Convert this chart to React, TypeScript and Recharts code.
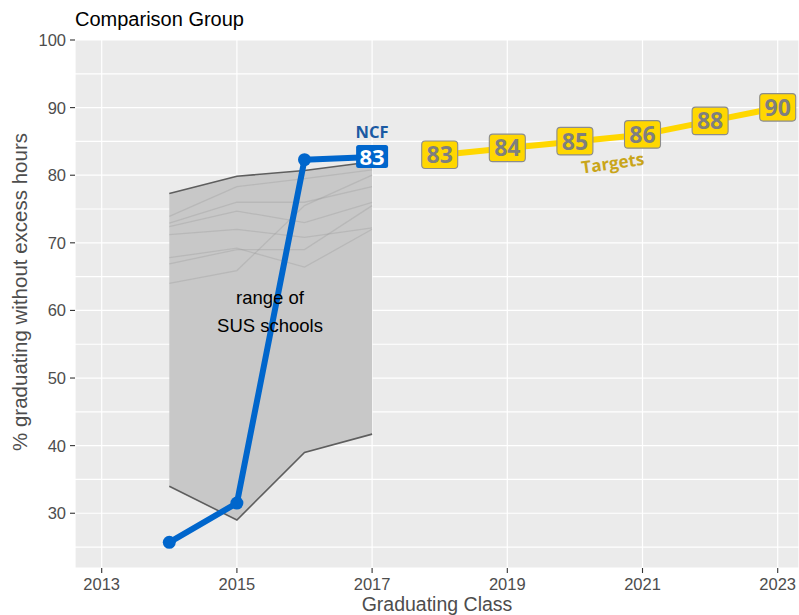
import React from "react";
import {
  ComposedChart,
  Line,
  Area,
  XAxis,
  YAxis,
  CartesianGrid,
  ReferenceDot,
} from "recharts";

// NCF actuals
const ncfYears = [2014, 2015, 2016, 2017];
const ncfRates = [25.7, 31.5, 82.3, 82.7];

// targets
const targetYears = [2018, 2019, 2020, 2021, 2022, 2023];
const targetRates = [83, 84, 85, 86, 88, 90];

// SUS range (min / max) and individual schools
const susYears = [2014, 2015, 2016, 2017];
const susLow = [34.0, 29.0, 39.0, 41.7];
const susHigh = [77.3, 79.85, 80.7, 82.0];
const schoolA = [73.9, 78.3, 79.5, 80.8];
const schoolB = [72.9, 76.0, 76.0, 78.3];
const schoolC = [72.4, 74.7, 73.0, 76.0];
const schoolD = [71.2, 72.0, 70.8, 72.2];
const schoolE = [67.8, 69.2, 66.4, 72.0];
const schoolF = [66.9, 69.0, 69.0, 75.5];
const schoolG = [64.0, 65.9, 75.5, 80.0];
const schools = [schoolA, schoolB, schoolC, schoolD, schoolE, schoolF, schoolG];

const xTicks = [2013, 2015, 2017, 2019, 2021, 2023];
const yTicks = [25, 30, 35, 40, 45, 50, 55, 60, 65, 70, 75, 80, 85, 90, 95, 100];

const allYears = [2014, 2015, 2016, 2017, 2018, 2019, 2020, 2021, 2022, 2023];

const data = allYears.map((year) => {
  const row: Record<string, any> = { year };
  const n = ncfYears.indexOf(year);
  if (n >= 0) row.ncf = ncfRates[n];
  const t = targetYears.indexOf(year);
  if (t >= 0) row.target = targetRates[t];
  const s = susYears.indexOf(year);
  if (s >= 0) {
    row.range = [susLow[s], susHigh[s]];
    row.low = susLow[s];
    row.high = susHigh[s];
    schools.forEach((sc, k) => {
      row["school" + k] = sc[s];
    });
  }
  return row;
});

const FONT = '"Liberation Sans", Arial, Helvetica, sans-serif';
const LABEL_FONT = '"Open Sans", "Noto Sans", sans-serif';
const BLUE = "#0066cc";
const GOLD = "#ffd700";

const YTick = ({ x, y, payload }: any) => {
  if (payload.value % 10 !== 0) return null;
  return (
    <g>
      <line x1={x - 5} x2={x} y1={y} y2={y} stroke="#333" strokeWidth={1.1} />
      <text x={x - 9} y={y} dy="0.36em" textAnchor="end" fill="#4d4d4d" fontSize={16.5} fontFamily={FONT}>
        {payload.value}
      </text>
    </g>
  );
};

const XTick = ({ x, y, payload }: any) => (
  <g>
    <line x1={x} x2={x} y1={y} y2={y + 5} stroke="#333" strokeWidth={1.1} />
    <text x={x} y={y + 21.5} textAnchor="middle" fill="#4d4d4d" fontSize={16.5} fontFamily={FONT}>
      {payload.value}
    </text>
  </g>
);

const ncfDot = (props: any) => {
  const { cx, cy, index, value } = props;
  if (value == null || index === ncfYears.length - 1) return <g key={`d${index}`} />;
  return <circle key={`d${index}`} cx={cx} cy={cy} r={6.5} fill={BLUE} />;
};

const ncfLabel = (props: any) => {
  const { x, y, index, value } = props;
  if (value == null || index !== ncfYears.length - 1) return null;
  return (
    <g>
      <text x={x} y={y - 19} textAnchor="middle" fill="#1b5aa3" fontSize={16.5} fontWeight={700} fontFamily={LABEL_FONT}>
        NCF
      </text>
      <rect x={x - 16} y={y - 12} width={32} height={23} rx={2.5} fill={BLUE} />
      <text x={x} y={y} dy="0.36em" textAnchor="middle" fill="#fff" fontSize={22} fontWeight={700} fontFamily={LABEL_FONT}>
        {Math.round(value)}
      </text>
    </g>
  );
};

const targetLabel = (props: any) => {
  const { x, y, value } = props;
  if (value == null) return null;
  return (
    <g>
      <rect x={x - 18} y={y - 14} width={36} height={27.5} rx={3.5} fill={GOLD} stroke="#8c8c8c" strokeWidth={1.1} />
      <text x={x} y={y} dy="0.36em" textAnchor="middle" fill="#7f7f7f" fontSize={23} fontWeight={700} fontFamily={LABEL_FONT}>
        {value}
      </text>
    </g>
  );
};

const rangeText = (props: any) => (
  <g>
    <text x={props.cx} y={props.cy - 14} dy="0.36em" textAnchor="middle" fill="#000" fontSize={18.5} fontFamily={FONT}>
      range of
    </text>
    <text x={props.cx} y={props.cy + 14} dy="0.36em" textAnchor="middle" fill="#000" fontSize={18.5} fontFamily={FONT}>
      SUS schools
    </text>
  </g>
);

const targetsText = (props: any) => (
  <text
    x={props.cx}
    y={props.cy}
    dy="0.36em"
    textAnchor="middle"
    fill="#c9a51a"
    fontSize={17}
    fontWeight={700}
    fontFamily={LABEL_FONT}
    transform={`rotate(-8, ${props.cx}, ${props.cy})`}
  >
    Targets
  </text>
);

const yTitle = ({ viewBox }: any) => {
  const cx = 27;
  const cy = viewBox.y + viewBox.height / 2 - 12;
  return (
    <text x={cx} y={cy} textAnchor="middle" fill="#4d4d4d" fontSize={20.5} fontFamily={FONT} transform={`rotate(-90, ${cx}, ${cy})`}>
      % graduating without excess hours
    </text>
  );
};

const xTitle = ({ viewBox }: any) => (
  <text x={viewBox.x + viewBox.width / 2} y={611} textAnchor="middle" fill="#4d4d4d" fontSize={19.5} fontFamily={FONT}>
    Graduating Class
  </text>
);

export default function App() {
  return (
    <div style={{ position: "absolute", left: 0, top: 0, width: 799, height: 615, background: "#fff" }}>
      <div
        style={{
          position: "absolute",
          left: 75,
          top: 9,
          fontSize: 20,
          lineHeight: 1,
          fontFamily: FONT,
          color: "#000",
        }}
      >
        Comparison Group
      </div>
      <ComposedChart width={799} height={615} data={data} margin={{ top: 40, right: 0, bottom: 0, left: 0 }}>
        <CartesianGrid fill="#ebebeb" stroke="#ffffff" strokeWidth={1.2} />
        <XAxis
          dataKey="year"
          type="number"
          domain={[2012.605, 2023.315]}
          allowDataOverflow
          ticks={xTicks}
          height={47}
          axisLine={false}
          tickLine={false}
          tickSize={0}
          tickMargin={0}
          tick={<XTick />}
          label={{ content: xTitle }}
        />
        <YAxis
          type="number"
          domain={[21.9, 100]}
          allowDataOverflow
          ticks={yTicks}
          interval={0}
          width={75}
          axisLine={false}
          tickLine={false}
          tickSize={0}
          tickMargin={0}
          tick={<YTick />}
          label={{ content: yTitle }}
        />
        <Area dataKey="range" stroke="none" fill="#c8c8c8" fillOpacity={1} isAnimationActive={false} />
        {schools.map((_, k) => (
          <Line
            key={k}
            dataKey={"school" + k}
            stroke="#8f8f8f"
            strokeOpacity={0.28}
            strokeWidth={1.3}
            dot={false}
            activeDot={false}
            isAnimationActive={false}
          />
        ))}
        <Line dataKey="high" stroke="#5e5e5e" strokeWidth={1.6} dot={false} activeDot={false} isAnimationActive={false} />
        <Line dataKey="low" stroke="#5e5e5e" strokeWidth={1.6} dot={false} activeDot={false} isAnimationActive={false} />
        <ReferenceDot x={2015.49} y={59.9} r={0} shape={rangeText} />
        <Line
          dataKey="ncf"
          stroke={BLUE}
          strokeWidth={6}
          strokeLinejoin="round"
          dot={ncfDot}
          activeDot={false}
          label={ncfLabel}
          isAnimationActive={false}
        />
        <Line
          dataKey="target"
          stroke={GOLD}
          strokeWidth={6}
          strokeLinejoin="round"
          dot={false}
          activeDot={false}
          label={targetLabel}
          isAnimationActive={false}
        />
        <ReferenceDot x={2020.56} y={81.8} r={0} shape={targetsText} />
      </ComposedChart>
    </div>
  );
}
